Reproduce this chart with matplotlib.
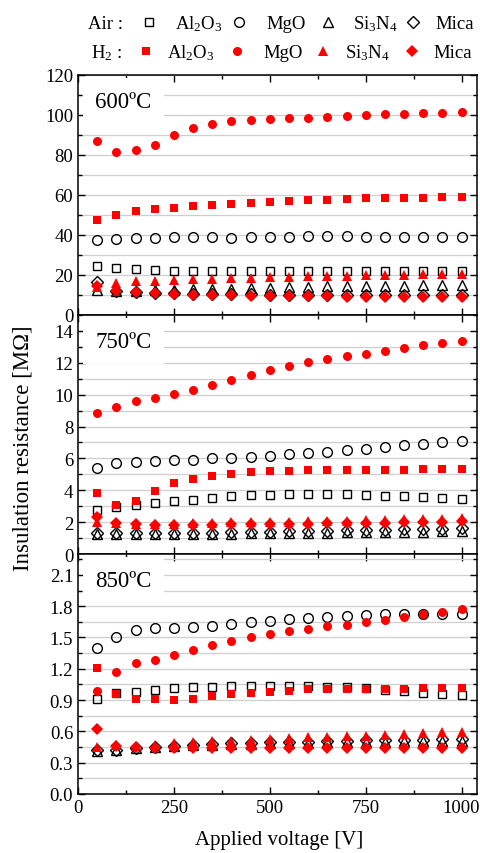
import matplotlib
matplotlib.use("Agg")
import matplotlib.pyplot as plt
from matplotlib.lines import Line2D
from matplotlib.ticker import MultipleLocator

plt.rcParams['font.family'] = ['Liberation Serif', 'DejaVu Serif']
plt.rcParams['mathtext.fontset'] = 'custom'
plt.rcParams['mathtext.rm'] = 'Liberation Serif'
plt.rcParams['mathtext.it'] = 'Liberation Serif:italic'

# applied voltage [V]
voltage = [50, 100, 150, 200, 250, 300, 350, 400, 450, 500,
           550, 600, 650, 700, 750, 800, 850, 900, 950, 1000]

# 600 C  [MOhm]
air_al2o3_600 = [24.3, 23.5, 23.0, 22.6, 22.2, 22.0, 22.0, 21.9, 21.8, 21.8,
                 21.9, 21.9, 22.0, 22.0, 22.1, 22.1, 22.1, 22.2, 22.2, 22.2]
air_mgo_600 = [37.5, 38.2, 38.5, 38.7, 38.8, 38.8, 39.0, 38.5, 39.2, 39.2,
               39.2, 39.3, 39.3, 39.3, 39.2, 39.2, 39.2, 39.2, 39.2, 39.2]
air_si3n4_600 = [12.7, 12.0, 12.2, 12.4, 12.7, 12.9, 13.0, 13.1, 13.4, 13.5,
                 13.9, 14.2, 14.4, 14.4, 14.5, 14.7, 14.7, 14.9, 15.0, 15.0]
air_mica_600 = [16.5, 12.2, 11.7, 11.2, 10.9, 10.7, 10.5, 10.4, 10.3, 10.2,
                10.1, 10.0, 10.0, 9.9, 9.9, 9.8, 9.8, 9.8, 9.8, 9.8]
h2_al2o3_600 = [47.7, 50.2, 51.8, 52.8, 53.5, 54.5, 55.0, 55.7, 56.2, 56.5,
                56.8, 57.3, 57.7, 58.0, 58.3, 58.5, 58.7, 58.7, 59.0, 59.0]
h2_mgo_600 = [87.0, 81.5, 82.3, 85.2, 90.0, 93.5, 95.7, 97.0, 97.5, 98.2,
              98.3, 98.7, 99.0, 99.3, 99.8, 100.3, 100.7, 100.8, 101.2, 101.3]
h2_si3n4_600 = [14.0, 15.9, 16.8, 17.2, 17.5, 17.9, 18.2, 18.3, 18.7, 19.0,
                19.2, 19.3, 19.5, 19.7, 20.0, 20.2, 20.2, 20.3, 20.3, 20.5]
h2_mica_600 = [14.5, 11.8, 11.3, 10.8, 10.4, 10.2, 10.0, 9.8, 9.6, 9.5,
               9.4, 9.3, 9.3, 9.2, 9.1, 9.0, 9.0, 8.9, 8.9, 8.9]

# 750 C
air_al2o3_750 = [2.78, 2.97, 3.07, 3.22, 3.30, 3.41, 3.53, 3.61, 3.68, 3.72,
                 3.74, 3.78, 3.76, 3.76, 3.72, 3.66, 3.61, 3.55, 3.49, 3.43]
air_mgo_750 = [5.41, 5.68, 5.79, 5.85, 5.89, 5.93, 6.00, 6.02, 6.08, 6.16,
               6.27, 6.33, 6.41, 6.52, 6.60, 6.69, 6.81, 6.90, 7.00, 7.10]
air_si3n4_750 = [1.25, 1.25, 1.25, 1.25, 1.25, 1.26, 1.27, 1.28, 1.29, 1.30,
                 1.31, 1.32, 1.33, 1.35, 1.36, 1.38, 1.39, 1.40, 1.42, 1.44]
air_mica_750 = [1.32, 1.30, 1.30, 1.30, 1.30, 1.32, 1.33, 1.35, 1.37, 1.40,
                1.42, 1.44, 1.46, 1.48, 1.50, 1.52, 1.55, 1.57, 1.60, 1.63]
h2_al2o3_750 = [3.80, 3.07, 3.32, 3.95, 4.47, 4.70, 4.87, 5.04, 5.12, 5.20,
                5.24, 5.27, 5.27, 5.27, 5.27, 5.27, 5.29, 5.33, 5.31, 5.33]
h2_mgo_750 = [8.86, 9.21, 9.61, 9.78, 10.05, 10.32, 10.62, 10.91, 11.22, 11.54,
              11.79, 12.02, 12.21, 12.40, 12.58, 12.75, 12.96, 13.10, 13.25, 13.35]
h2_si3n4_750 = [2.00, 1.95, 1.90, 1.90, 1.90, 1.92, 1.95, 1.98, 2.00, 2.00,
                2.03, 2.05, 2.08, 2.10, 2.12, 2.15, 2.18, 2.20, 2.22, 2.25]
h2_mica_750 = [2.35, 1.95, 1.90, 1.85, 1.85, 1.85, 1.85, 1.88, 1.88, 1.88,
               1.90, 1.90, 1.92, 1.93, 1.95, 1.97, 1.98, 2.00, 2.02, 2.05]

# 850 C
air_al2o3_850 = [0.908, 0.968, 0.981, 1.000, 1.013, 1.023, 1.029, 1.035, 1.039, 1.032,
                 1.032, 1.032, 1.029, 1.026, 1.019, 1.000, 0.991, 0.972, 0.962, 0.946]
air_mgo_850 = [1.397, 1.508, 1.576, 1.588, 1.588, 1.601, 1.614, 1.633, 1.646, 1.659,
               1.675, 1.684, 1.697, 1.710, 1.716, 1.723, 1.723, 1.723, 1.723, 1.729]
air_si3n4_850 = [0.41, 0.42, 0.44, 0.45, 0.46, 0.47, 0.47, 0.48, 0.48, 0.49,
                 0.49, 0.49, 0.50, 0.50, 0.50, 0.50, 0.51, 0.51, 0.51, 0.51]
air_mica_850 = [0.42, 0.42, 0.44, 0.45, 0.46, 0.47, 0.48, 0.485, 0.49, 0.495,
                0.50, 0.50, 0.505, 0.51, 0.515, 0.515, 0.52, 0.52, 0.525, 0.525]
h2_al2o3_850 = [1.205, 0.956, 0.908, 0.908, 0.901, 0.914, 0.943, 0.956, 0.965, 0.981,
                0.988, 1.004, 1.010, 1.007, 1.007, 1.010, 1.010, 1.013, 1.013, 1.019]
h2_mgo_850 = [0.988, 1.173, 1.253, 1.282, 1.333, 1.377, 1.425, 1.470, 1.505, 1.534,
              1.563, 1.585, 1.608, 1.624, 1.649, 1.671, 1.700, 1.723, 1.745, 1.770]
h2_si3n4_850 = [0.447, 0.47, 0.46, 0.47, 0.486, 0.50, 0.51, 0.51, 0.52, 0.53,
                0.537, 0.543, 0.55, 0.556, 0.56, 0.57, 0.575, 0.585, 0.59, 0.598]
h2_mica_850 = [0.625, 0.46, 0.45, 0.445, 0.445, 0.445, 0.445, 0.445, 0.445, 0.445,
               0.445, 0.445, 0.445, 0.445, 0.445, 0.445, 0.445, 0.445, 0.445, 0.445]

materials = ['Al$_2$O$_3$', 'MgO', 'Si$_3$N$_4$', 'Mica']
markers = ['s', 'o', '^', 'D']
air_sizes = [6, 7, 7, 6]
h2_sizes = [5.5, 6.5, 6.5, 6]

panels = [
    ('600ºC', [air_al2o3_600, air_mgo_600, air_si3n4_600, air_mica_600],
     [h2_al2o3_600, h2_mgo_600, h2_si3n4_600, h2_mica_600], 120, 20, 10, '%d'),
    ('750ºC', [air_al2o3_750, air_mgo_750, air_si3n4_750, air_mica_750],
     [h2_al2o3_750, h2_mgo_750, h2_si3n4_750, h2_mica_750], 15, 2, 1, '%d'),
    ('850ºC', [air_al2o3_850, air_mgo_850, air_si3n4_850, air_mica_850],
     [h2_al2o3_850, h2_mgo_850, h2_si3n4_850, h2_mica_850], 2.3, 0.3, 0.15, '%.1f'),
]

fig = plt.figure(figsize=(4.8, 8.54), dpi=100)
W, H = 480.0, 854.0
ax_left, ax_right = 78, 477
edges = [(76, 316), (316, 555), (555, 795)]

for i, (label, air, h2, ymax, major, minor, fmt) in enumerate(panels):
    top, bot = edges[i]
    ax = fig.add_axes([ax_left / W, 1 - bot / H, (ax_right - ax_left) / W, (bot - top) / H])
    ax.set_axisbelow(True)
    # air: open markers, hydrogen: red filled on top
    for ys, m, s in zip(air, markers, air_sizes):
        ax.plot(voltage, ys, linestyle='none', marker=m, markersize=s,
                markerfacecolor='none', markeredgecolor='black', markeredgewidth=1.0)
    for ys, m, s in zip(h2, markers, h2_sizes):
        ax.plot(voltage, ys, linestyle='none', marker=m, markersize=s,
                color='red', markeredgewidth=0)
    ax.set_xlim(0, 1040)
    ax.set_ylim(0, ymax)
    ax.xaxis.set_major_locator(MultipleLocator(250))
    ax.xaxis.set_minor_locator(MultipleLocator(125))
    ax.yaxis.set_major_locator(MultipleLocator(major))
    ax.yaxis.set_minor_locator(MultipleLocator(minor))
    ax.yaxis.set_major_formatter(matplotlib.ticker.FormatStrFormatter(fmt))
    ax.grid(True, which='both', axis='y', color='#cfcfcf', linewidth=0.9)
    ax.tick_params(which='both', direction='in', top=True, right=True,
                   labelsize=13.5, width=1.0)
    ax.tick_params(which='major', length=5)
    ax.tick_params(which='minor', length=3)
    for sp in ax.spines.values():
        sp.set_linewidth(1.1)
    if i < 2:
        ax.tick_params(labelbottom=False)
    ax.text(0.043, 0.89, label, transform=ax.transAxes, fontsize=16.5, va='center',
            bbox=dict(boxstyle='square,pad=0.55', facecolor='white', edgecolor='none'))

fig.text(279 / W, 1 - 841 / H, 'Applied voltage [V]', fontsize=15, ha='center', va='center')
fig.text(23 / W, 1 - 448 / H, 'Insulation resistance [MΩ]', fontsize=16.5,
         rotation=90, ha='center', va='center')

# legend rows
rows = [
    ('Air :', 88, 23, 29, [149, 239, 328, 413], [175, 266, 353, 435], False),
    ('H$_2$ :', 91, 52, 58, [146, 237, 323, 412], [167, 263, 345, 433], True),
]
for head, hx, my, base, mxs, lxs, filled in rows:
    fig.text(hx / W, 1 - base / H, head, fontsize=13.5, va='baseline')
    for j in range(4):
        if filled:
            kw = dict(color='red', markeredgewidth=0, markersize=h2_sizes[j])
        else:
            kw = dict(markerfacecolor='none', markeredgecolor='black',
                      markeredgewidth=1.0, markersize=air_sizes[j])
        fig.add_artist(Line2D([mxs[j] / W], [1 - my / H], transform=fig.transFigure,
                              marker=markers[j], linestyle='none', **kw))
        fig.text(lxs[j] / W, 1 - base / H, materials[j], fontsize=13.5, va='baseline')

fig.savefig('out.png', dpi=100)
